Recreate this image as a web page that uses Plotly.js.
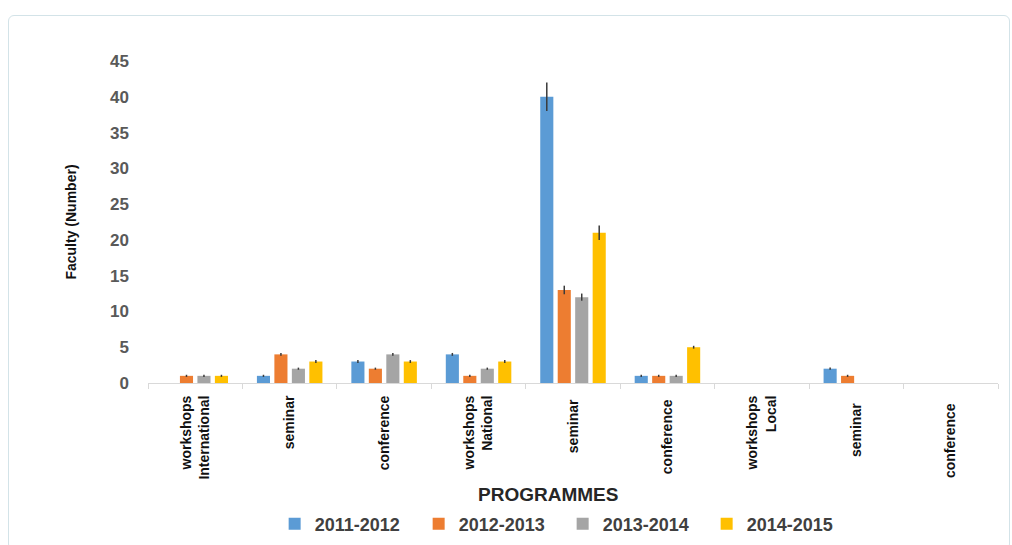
<!DOCTYPE html>
<html>
<head>
<meta charset="utf-8">
<script src="https://cdn.plot.ly/plotly-3.0.1.min.js"></script>
<style>
html,body{margin:0;padding:0;background:#fff;}
#wrap{position:relative;width:1012px;height:545px;}
#chart{width:1012px;height:545px;}
#frame{position:absolute;left:8px;top:15px;width:1002px;height:535px;border:1px solid #d3e3e8;border-radius:6px;pointer-events:none;box-sizing:border-box;}
</style>
</head>
<body>
<div id="wrap"><div id="chart"></div><div id="frame"></div></div>
<script>
const categories = [
  "workshops<br>International", "seminar", "conference",
  "workshops<br>National", "seminar ", "conference ",
  "workshops<br>Local", "seminar  ", "conference  "
];
const seriesNames = ["2011-2012", "2012-2013", "2013-2014", "2014-2015"];
const v2011 = [0, 1, 3, 4, 40, 1, 0, 2, 0];
const v2012 = [1, 4, 2, 1, 13, 1, 0, 1, 0];
const v2013 = [1, 2, 4, 2, 12, 1, 0, 0, 0];
const v2014 = [1, 3, 3, 3, 21, 5, 0, 0, 0];
const e2011 = [null, 0.15, 0.2, 0.2, 2, 0.15, null, 0.15, null];
const e2012 = [0.15, 0.2, 0.15, 0.15, 0.6, 0.15, null, 0.15, null];
const e2013 = [0.15, 0.15, 0.2, 0.15, 0.5, 0.15, null, null, null];
const e2014 = [0.15, 0.2, 0.2, 0.2, 1, 0.2, null, null, null];
const colors = ["#5B9BD5", "#ED7D31", "#A5A5A5", "#FFC000"];

const values = [v2011, v2012, v2013, v2014];
const errs = [e2011, e2012, e2013, e2014];
const FONT = "'Liberation Sans', Arial, sans-serif";

const traces = seriesNames.map((n, i) => ({
  type: "bar",
  name: n,
  x: categories,
  y: values[i],
  marker: {color: colors[i], line: {width: 0}},
  error_y: {type: "data", array: errs[i], visible: true, color: "#3a3a3a", thickness: 1.5, width: 0}
}));

const layout = {
  width: 1012, height: 545,
  margin: {l: 148, r: 14, t: 61, b: 162, autoexpand: false},
  paper_bgcolor: "rgba(0,0,0,0)",
  plot_bgcolor: "rgba(0,0,0,0)",
  barmode: "group",
  bargap: 0.26,
  bargroupgap: 0.25,
  showlegend: true,
  legend: {
    orientation: "h", x: 0.149, xanchor: "left", xref: "paper",
    y: -0.438, yanchor: "middle",
    font: {family: FONT, size: 18, color: "#404040", weight: "bold"},
    entrywidth: 99
  },
  annotations: [{
    text: "PROGRAMMES", xref: "paper", yref: "paper",
    x: 0.4706, y: -0.345, xanchor: "center", yanchor: "middle", showarrow: false,
    font: {family: FONT, size: 19, color: "#262626", weight: "bold"}
  }],
  xaxis: {
    type: "category",
    tickangle: -90,
    tickfont: {family: FONT, size: 14, color: "#111", weight: "bold"},
    showline: true, linecolor: "#d9d9d9", linewidth: 1,
    ticks: "outside", tickson: "boundaries", ticklen: 5, tickcolor: "#d9d9d9",
    ticklabelstandoff: 6,
    showgrid: false, zeroline: false,
    automargin: false
  },
  yaxis: {
    range: [0, 45],
    tickvals: [0, 5, 10, 15, 20, 25, 30, 35, 40, 45],
    tickfont: {family: FONT, size: 17, color: "#595959", weight: "bold"},
    showline: false, showgrid: false, zeroline: false, ticks: "",
    ticklabelstandoff: 18,
    title: {text: "Faculty (Number)", font: {family: FONT, size: 14, color: "#111", weight: "bold"}, standoff: 30},
    automargin: false
  }
};

Plotly.newPlot("chart", traces, layout, {displayModeBar: false, staticPlot: true});
</script>
</body>
</html>
